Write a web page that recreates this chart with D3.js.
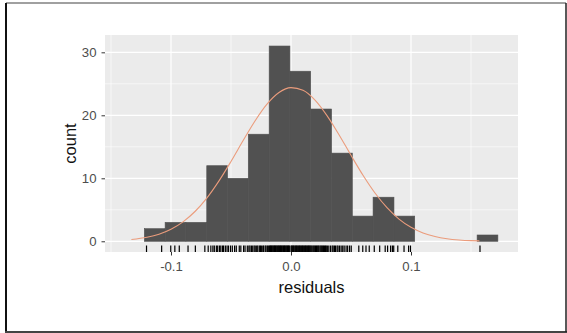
<!DOCTYPE html>
<html>
<head>
<meta charset="utf-8">
<script src="https://cdn.jsdelivr.net/npm/d3@7"></script>
<style>
  body { margin: 0; background: #fff; }
  text { font-family: "Liberation Sans", Arial, sans-serif; }
</style>
</head>
<body>
<svg id="chart" width="567" height="333"></svg>
<script>
// histogram bins (edges) and counts
const binEdges = [-0.1222, -0.1049, -0.0876, -0.0702, -0.0529, -0.0356, -0.0182, -0.0009,
  0.0164, 0.0338, 0.0511, 0.0684, 0.0858, 0.1031, 0.1204, 0.1378, 0.1551, 0.1724];
const binCounts = [2, 3, 3, 12, 10, 17, 31, 27, 21, 14, 4, 7, 4, 0, 0, 0, 1];

// rug positions (residuals), estimated from the tick marks
const residuals = [
  -0.1204, -0.1078,
  -0.1002, -0.0968, -0.0931,
  -0.0858, -0.0797, -0.0718,
  -0.0690, -0.0668, -0.0651, -0.0639, -0.0622, -0.0611, -0.0596, -0.0585, -0.0571, -0.0562, -0.0547, -0.0533,
  -0.0521, -0.0504, -0.0489, -0.0470, -0.0456, -0.0431, -0.0418, -0.0395, -0.0383, -0.0364,
  -0.0351, -0.0342, -0.0330, -0.0319, -0.0307, -0.0298, -0.0286, -0.0277, -0.0264, -0.0255, -0.0247, -0.0235,
  -0.0228, -0.0215, -0.0208, -0.0197, -0.0189,
  -0.0180, -0.0174, -0.0170, -0.0163, -0.0158, -0.0151, -0.0148, -0.0140, -0.0137, -0.0129, -0.0125, -0.0118,
  -0.0114, -0.0106, -0.0101, -0.0097, -0.0089, -0.0086, -0.0078, -0.0074, -0.0067, -0.0063, -0.0055, -0.0052,
  -0.0044, -0.0040, -0.0033, -0.0029, -0.0021, -0.0018, -0.0011,
  0.0001, 0.0007, 0.0011, 0.0019, 0.0023, 0.0032, 0.0036, 0.0044, 0.0048, 0.0056, 0.0061, 0.0069, 0.0073, 0.0081,
  0.0086, 0.0094, 0.0098, 0.0106, 0.0111, 0.0119, 0.0123, 0.0131, 0.0136, 0.0144, 0.0148, 0.0156, 0.0160,
  0.0168, 0.0175, 0.0183, 0.0190, 0.0198, 0.0204, 0.0213, 0.0219, 0.0227, 0.0233, 0.0242, 0.0249, 0.0256,
  0.0264, 0.0271, 0.0279, 0.0287, 0.0294, 0.0303, 0.0315, 0.0329,
  0.0343, 0.0351, 0.0362, 0.0371, 0.0384, 0.0392, 0.0405, 0.0418, 0.0431, 0.0443, 0.0459, 0.0472, 0.0488, 0.0502,
  0.0565, 0.0598, 0.0625, 0.0652,
  0.0694, 0.0739, 0.0785, 0.0805, 0.0830, 0.0845, 0.0856,
  0.0890, 0.0942, 0.0980, 0.0996,
  0.1575
];

// fitted normal curve
const curveX = [-0.133, -0.12, -0.11, -0.10, -0.09, -0.08, -0.07, -0.06, -0.05, -0.04, -0.03, -0.02, -0.01,
  0.00, 0.01, 0.02, 0.03, 0.04, 0.05, 0.06, 0.07, 0.08, 0.09, 0.10, 0.11, 0.12, 0.13, 0.14, 0.15, 0.157];
const curveY = [0.28, 0.64, 1.13, 1.92, 3.09, 4.73, 6.90, 9.59, 12.68, 15.95, 19.10, 21.77, 23.62,
  24.39, 23.97, 22.42, 19.96, 16.92, 13.65, 10.48, 7.66, 5.33, 3.53, 2.22, 1.33, 0.76, 0.41, 0.21, 0.10, 0.07];

const xTicks = [-0.1, 0.0, 0.1];
const xMinor = [-0.15, -0.05, 0.05, 0.15];
const yTicks = [0, 10, 20, 30];
const yMinor = [5, 15, 25];

const svg = d3.select('#chart');

// outer frame of the screenshot
svg.append('line').attr('x1', 6).attr('x2', 566).attr('y1', 3).attr('y2', 3)
  .attr('stroke', '#808080').attr('stroke-width', 1.5);
svg.append('line').attr('x1', 6).attr('x2', 6).attr('y1', 3).attr('y2', 332)
  .attr('stroke', '#111').attr('stroke-width', 2);
svg.append('line').attr('x1', 5).attr('x2', 567).attr('y1', 332).attr('y2', 332)
  .attr('stroke', '#444').attr('stroke-width', 2);
svg.append('line').attr('x1', 566).attr('x2', 566).attr('y1', 3).attr('y2', 332)
  .attr('stroke', '#222').attr('stroke-width', 1.5);

const panel = { left: 105, right: 518, top: 35, bottom: 252 };

const x = d3.scaleLinear().domain([-0.155, 0.18917]).range([panel.left, panel.right]);
const y = d3.scaleLinear().domain([-1.70, 32.75]).range([panel.bottom, panel.top]);

// panel background
svg.append('rect')
  .attr('x', panel.left).attr('y', panel.top)
  .attr('width', panel.right - panel.left).attr('height', panel.bottom - panel.top)
  .attr('fill', '#ebebeb');

// grid lines
const grid = svg.append('g');
grid.selectAll('.xmin').data(xMinor).enter().append('line')
  .attr('x1', d => x(d)).attr('x2', d => x(d)).attr('y1', panel.top).attr('y2', panel.bottom)
  .attr('stroke', '#fff').attr('stroke-width', 0.6);
grid.selectAll('.ymin').data(yMinor).enter().append('line')
  .attr('y1', d => y(d)).attr('y2', d => y(d)).attr('x1', panel.left).attr('x2', panel.right)
  .attr('stroke', '#fff').attr('stroke-width', 0.6);
grid.selectAll('.xmaj').data(xTicks).enter().append('line')
  .attr('x1', d => x(d)).attr('x2', d => x(d)).attr('y1', panel.top).attr('y2', panel.bottom)
  .attr('stroke', '#fff').attr('stroke-width', 1.2);
grid.selectAll('.ymaj').data(yTicks).enter().append('line')
  .attr('y1', d => y(d)).attr('y2', d => y(d)).attr('x1', panel.left).attr('x2', panel.right)
  .attr('stroke', '#fff').attr('stroke-width', 1.2);

// bars (stroke in fill colour hides seams between neighbours)
const bins = binCounts.map((c, i) => ({ x0: binEdges[i], x1: binEdges[i + 1], count: c }))
  .filter(d => d.count > 0);
svg.append('g').selectAll('rect').data(bins).enter().append('rect')
  .attr('x', d => x(d.x0))
  .attr('width', d => x(d.x1) - x(d.x0))
  .attr('y', d => y(d.count))
  .attr('height', d => y(0) - y(d.count))
  .attr('fill', '#515151')
  .attr('stroke', '#515151')
  .attr('stroke-width', 0.6);

// normal curve
const line = d3.line()
  .x((d, i) => x(curveX[i]))
  .y(d => y(d))
  .curve(d3.curveMonotoneX);
svg.append('path')
  .datum(curveY)
  .attr('d', line)
  .attr('fill', 'none')
  .attr('stroke', '#eb9c7c')
  .attr('stroke-width', 1.1);

// rug
svg.append('g').selectAll('line').data(residuals).enter().append('line')
  .attr('x1', d => x(d)).attr('x2', d => x(d))
  .attr('y1', panel.bottom - 6.5).attr('y2', panel.bottom)
  .attr('stroke', '#000').attr('stroke-width', 1.2);

// axes - ggplot prints a plain hyphen, not the unicode minus
const fmtX = d => d3.format('.1f')(d).replace('\u2212', '-');
const xAxisG = svg.append('g')
  .attr('transform', `translate(0,${panel.bottom})`)
  .call(d3.axisBottom(x).tickValues(xTicks).tickFormat(fmtX).tickSize(3.5).tickPadding(6.5));
const yAxisG = svg.append('g')
  .attr('transform', `translate(${panel.left},0)`)
  .call(d3.axisLeft(y).tickValues(yTicks).tickSize(3.5).tickPadding(5));

[xAxisG, yAxisG].forEach(g => {
  g.select('.domain').remove();
  g.selectAll('.tick line').attr('stroke', '#333');
  g.selectAll('.tick text')
    .attr('fill', '#4d4d4d')
    .style('font-size', '13.2px')
    .style('font-family', '"Liberation Sans", Arial, sans-serif');
});

// axis titles
svg.append('text')
  .attr('x', (panel.left + panel.right) / 2)
  .attr('y', 293)
  .attr('text-anchor', 'middle')
  .attr('fill', '#111')
  .style('font-size', '16.5px')
  .text('residuals');

svg.append('text')
  .attr('transform', `translate(76,${(panel.top + panel.bottom) / 2}) rotate(-90)`)
  .attr('text-anchor', 'middle')
  .attr('fill', '#111')
  .style('font-size', '16.5px')
  .text('count');
</script>
</body>
</html>
